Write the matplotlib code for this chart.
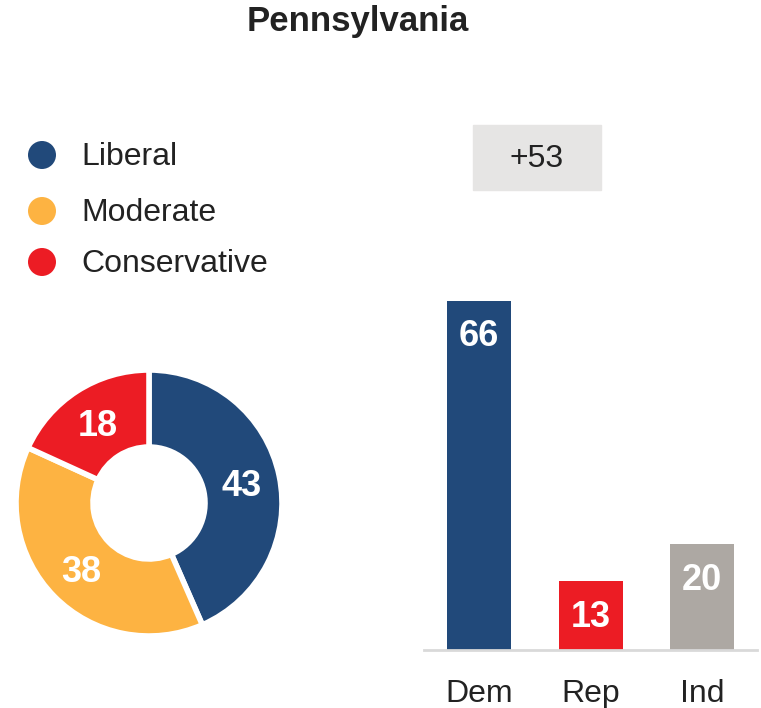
import numpy as np
import matplotlib.pyplot as plt
from matplotlib.patches import Rectangle

plt.rcParams['font.family'] = ['Liberation Sans', 'DejaVu Sans']

title = 'Pennsylvania'
ideology = ['Liberal', 'Moderate', 'Conservative']
ideology_vals = [43, 38, 18]
ideology_colors = ['#21497a', '#fdb342', '#ec1c24']

parties = ['Dem', 'Rep', 'Ind']
party_vals = [66, 13, 20]
party_colors = ['#21497a', '#ec1c24', '#ada8a3']

W, H = 761, 708
fig = plt.figure(figsize=(W / 100, H / 100), dpi=100)


def px_axes(x0, y0, x1, y1):
    # pixel box (top-left origin) -> figure axes
    return fig.add_axes([x0 / W, 1 - y1 / H, (x1 - x0) / W, (y1 - y0) / H])


fig.text(358 / W, 1 - 22 / H, title, ha='center', va='center',
         fontsize=25, fontweight='bold', color='#222222')

# legend on a full-figure pixel axis
lax = fig.add_axes([0, 0, 1, 1])
lax.set_xlim(0, W)
lax.set_ylim(H, 0)
lax.axis('off')
leg_y = [155, 211, 262]
lax.scatter([42] * 3, leg_y, s=(28 * 0.72) ** 2, c=ideology_colors, edgecolors='none')
for lab, y in zip(ideology, leg_y):
    lax.text(81, y + 2, lab, ha='left', va='center', fontsize=23, color='#222222')

# donut
pax = px_axes(149 - 140, 503 - 140, 149 + 140, 503 + 140)
pax.pie(ideology_vals, colors=ideology_colors, startangle=90, counterclock=False,
        radius=1, wedgeprops=dict(width=1 - 56 / 133, edgecolor='white', linewidth=4))
pax.set_xlim(-140 / 133, 140 / 133)
pax.set_ylim(-140 / 133, 140 / 133)
tot = sum(ideology_vals)
start = 90
r = (1 + 56 / 133) / 2
for v in ideology_vals:
    mid = np.deg2rad(start - v / tot * 360 / 2)
    pax.text(r * np.cos(mid), r * np.sin(mid) - 3 / 133, str(v), ha='center', va='center',
             fontsize=26, fontweight='bold', color='white')
    start -= v / tot * 360

# bars
bax = px_axes(424, 100, 757, 650)
x = np.arange(len(parties))
bax.bar(x, party_vals, width=64 / 111.5, color=party_colors)
bax.set_xlim(-55 / 111.5, 2 + 55 / 111.5)
bax.set_ylim(0, 550 / 5.29)
for xi, v in zip(x, party_vals):
    bax.text(xi, v - 6.8, str(v), ha='center', va='center', fontsize=26,
             fontweight='bold', color='white')
for s in ['top', 'right', 'left']:
    bax.spines[s].set_visible(False)
bax.spines['bottom'].set_color('#d9d9d9')
bax.spines['bottom'].set_linewidth(2)
bax.set_yticks([])
bax.set_xticks(x)
bax.set_xticklabels(parties, fontsize=23, color='#222222')
bax.tick_params(axis='x', length=0, pad=21)

# margin box
y0 = (650 - 190) / 5.29
y1 = (650 - 125) / 5.29
x0 = -6 / 111.5
x1 = 122 / 111.5
bax.add_patch(Rectangle((x0, y0), x1 - x0, y1 - y0, color='#e6e5e4', clip_on=False))
bax.text((x0 + x1) / 2, (y0 + y1) / 2 - 0.3, f'+{party_vals[0] - party_vals[1]}',
         ha='center', va='center', fontsize=23, color='#222222')

fig.savefig('out.png', dpi=100)
